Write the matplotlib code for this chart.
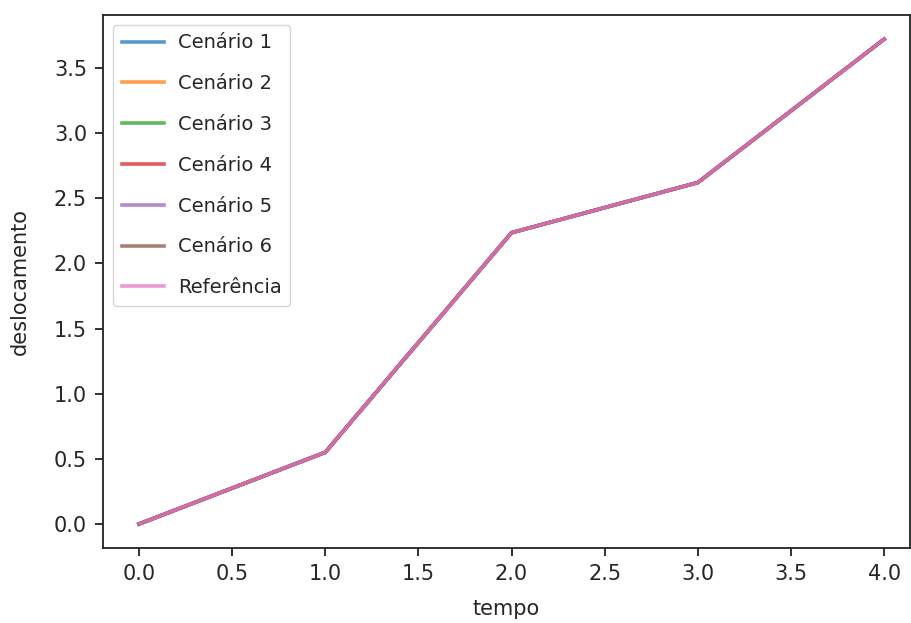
import numpy as np
import matplotlib.pyplot as plt

tempo = [0, 1, 2, 3, 4]
deslocamento = [0.0, 0.55, 2.235, 2.62, 3.72]
labels = ["Cenário 1", "Cenário 2", "Cenário 3", "Cenário 4",
          "Cenário 5", "Cenário 6", "Referência"]

fig = plt.figure(figsize=(9.12, 6.23), dpi=100)
ax = fig.add_axes([0.113, 0.12, 0.885, 0.856])

for lab in labels:
    ax.plot(tempo, deslocamento, label=lab, lw=2.6, alpha=0.75)

ax.set_xlim(-0.193, 4.14)
ax.set_xticks(np.arange(0, 4.01, 0.5))
ax.set_yticks(np.arange(0, 3.51, 0.5))
ax.tick_params(labelsize=15, length=5.5, width=1.3, pad=6, colors="#222222",
               labelcolor="#262626")
for s in ax.spines.values():
    s.set_linewidth(1.3)
    s.set_color("#222222")
ax.set_xlabel("tempo", fontsize=15, labelpad=11, color="#262626")
ax.set_ylabel("deslocamento", fontsize=15, labelpad=17, color="#262626")
leg = ax.legend(loc="upper left", fontsize=14, handlelength=2.2,
                labelspacing=1.12, borderpad=0.45, handletextpad=0.7)
for t in leg.get_texts():
    t.set_color("#262626")

plt.savefig("out.png", dpi=100)
